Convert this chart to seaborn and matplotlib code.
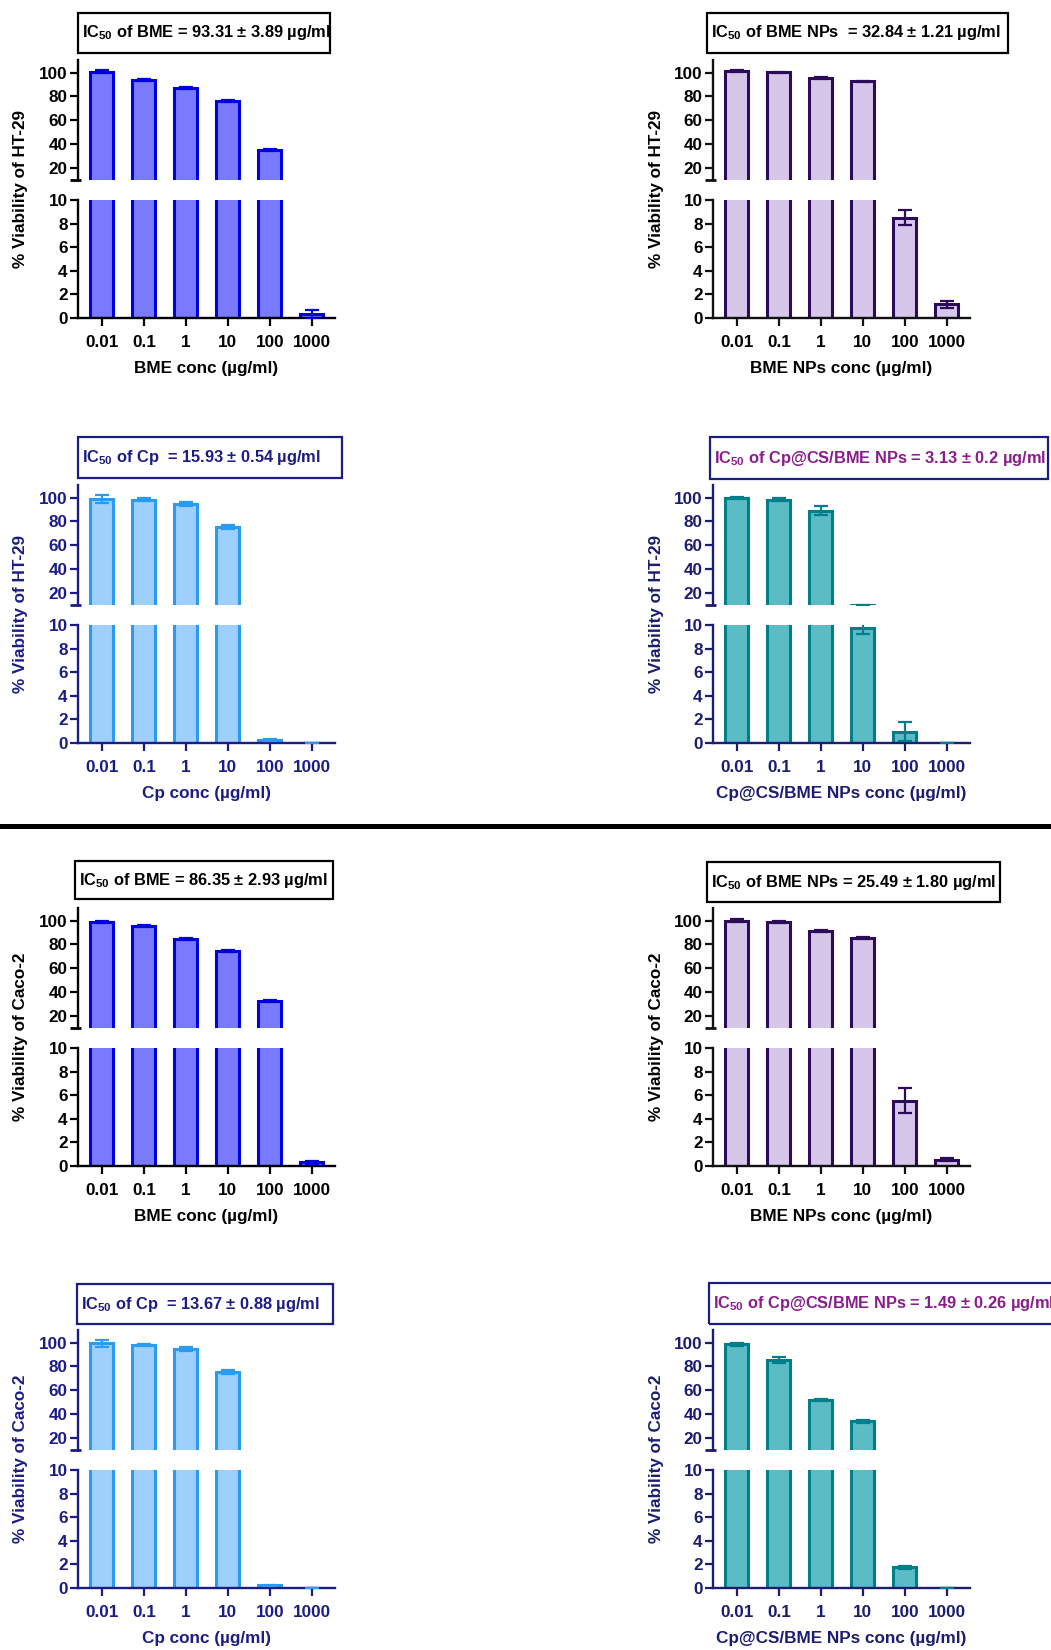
import numpy as np
import pandas as pd
import matplotlib
matplotlib.use("Agg")
import matplotlib.pyplot as plt
from matplotlib.lines import Line2D
from matplotlib.patches import Rectangle
import seaborn as sns

# ---------------------------------------------------------------- data
conc_labels = ["0.01", "0.1", "1", "10", "100", "1000"]

# HT-29 cell line (% viability, mean and SD)
ht29_bme = [100.8, 93.8, 87.4, 75.8, 35.0, 0.30]
ht29_bme_sd = [1.0, 1.0, 0.8, 0.8, 1.0, 0.35]
ht29_bme_nps = [101.2, 100.2, 95.5, 92.5, 8.5, 1.15]
ht29_bme_nps_sd = [1.0, 0.5, 0.5, 0.8, 0.65, 0.3]
ht29_cp = [99.0, 98.2, 94.8, 75.5, 0.25, 0.03]
ht29_cp_sd = [3.5, 1.0, 1.5, 1.5, 0.05, 0.0]
ht29_cpcs = [99.5, 98.2, 89.0, 9.75, 0.95, 0.02]
ht29_cpcs_sd = [1.0, 1.0, 3.5, 0.55, 0.8, 0.0]

# Caco-2 cell line
caco_bme = [99.0, 95.5, 84.5, 74.5, 32.5, 0.30]
caco_bme_sd = [0.8, 1.0, 0.8, 0.8, 0.8, 0.12]
caco_bme_nps = [100.0, 99.0, 91.0, 85.0, 5.55, 0.55]
caco_bme_nps_sd = [1.0, 0.8, 1.0, 0.8, 1.05, 0.15]
caco_cp = [99.3, 98.0, 94.5, 75.5, 0.22, 0.03]
caco_cp_sd = [3.0, 0.8, 1.5, 1.5, 0.05, 0.0]
caco_cpcs = [98.5, 85.0, 52.0, 34.0, 1.75, 0.02]
caco_cpcs_sd = [1.5, 2.5, 1.0, 1.5, 0.15, 0.0]

ic50_text = [
    r"IC$_{50}$ of BME = 93.31 ± 3.89 µg/ml",
    r"IC$_{50}$ of BME NPs  = 32.84 ± 1.21 µg/ml",
    r"IC$_{50}$ of Cp  = 15.93 ± 0.54 µg/ml",
    r"IC$_{50}$ of Cp@CS/BME NPs = 3.13 ± 0.2 µg/ml",
    r"IC$_{50}$ of BME = 86.35 ± 2.93 µg/ml",
    r"IC$_{50}$ of BME NPs = 25.49 ± 1.80 µg/ml",
    r"IC$_{50}$ of Cp  = 13.67 ± 0.88 µg/ml",
    r"IC$_{50}$ of Cp@CS/BME NPs = 1.49 ± 0.26 µg/ml",
]

# ---------------------------------------------------------------- style
sns.set_style("ticks")
plt.rcParams["font.family"] = ["Liberation Sans", "DejaVu Sans"]
plt.rcParams["font.weight"] = "bold"
plt.rcParams["mathtext.fontset"] = "custom"
plt.rcParams["mathtext.rm"] = "Liberation Sans:bold"
plt.rcParams["mathtext.it"] = "Liberation Sans:bold"
plt.rcParams["mathtext.bf"] = "Liberation Sans:bold"

NAVY = "#1c1c86"
PURPLE = "#8a1c8c"
styles = {
    "bme": dict(fill="#7a7aff", edge="#0000dc", axis="black", text="black", box="black", boxtext="black"),
    "nps": dict(fill="#d6c6ea", edge="#2c0c58", axis="#111111", text="black", box="black", boxtext="black"),
    "cp": dict(fill="#9ed0fb", edge="#2b9bf0", axis=NAVY, text=NAVY, box=NAVY, boxtext=NAVY),
    "cpcs": dict(fill="#5bbcc6", edge="#007f8a", axis="#1c1c70", text="#1c1c70", box=NAVY, boxtext=PURPLE),
}

W, H = 1051, 1650
fig = plt.figure(figsize=(W / 100, H / 100), dpi=100)


def fx(px):
    return px / W


def fy(py):
    return 1 - py / H


FS = 12.3
AX_W = 257
BREAK = 10


def panel(x0, top, vals, sds, style, xlabel, ylabel, box, label):
    st = styles[style]
    df = pd.DataFrame({"conc": conc_labels, "viability": vals})
    vals_a = np.asarray(vals, dtype=float)
    sds_a = np.asarray(sds, dtype=float)
    ax_up = fig.add_axes([fx(x0), fy(top + 120), AX_W / W, 120 / H])
    ax_lo = fig.add_axes([fx(x0), fy(top + 258), AX_W / W, 118 / H])
    for ax in (ax_up, ax_lo):
        sns.barplot(data=df, x="conc", y="viability", order=conc_labels,
                    color=st["fill"], edgecolor=st["edge"], linewidth=2.2,
                    width=0.55, saturation=1, errorbar=None, ax=ax)
        # error bars only where they reach into this segment of the axis
        if ax is ax_up:
            keep = vals_a + sds_a > BREAK
        else:
            keep = vals_a - sds_a < BREAK
        ax.errorbar(np.arange(len(vals))[keep], vals_a[keep], yerr=sds_a[keep],
                    fmt="none", ecolor=st["edge"], elinewidth=1.6, capsize=5,
                    capthick=1.6, zorder=4)
        ax.set_xlim(-0.57, 5.55)
        ax.set_xlabel("")
        ax.set_ylabel("")
        for s in ("top", "right"):
            ax.spines[s].set_visible(False)
        for s in ("left", "bottom"):
            ax.spines[s].set_color(st["axis"])
            ax.spines[s].set_linewidth(1.7)
        ax.tick_params(axis="both", colors=st["axis"], labelcolor=st["text"],
                       width=1.6, length=6, labelsize=FS)
        ax.tick_params(axis="y", pad=1.5)
        ax.tick_params(axis="x", pad=6.5)
    ax_up.set_ylim(BREAK, 110.5)
    ax_up.set_yticks([20, 40, 60, 80, 100])
    ax_up.set_yticklabels(["20", "40", "60", "80", "100"], fontweight="bold")
    ax_up.spines["bottom"].set_visible(False)
    ax_up.tick_params(axis="x", bottom=False, labelbottom=False)
    # break marker at the lower end of the upper axis
    ax_up.plot([-8 / AX_W, 3 / AX_W], [0, 0], transform=ax_up.transAxes,
               color=st["axis"], lw=2.0, clip_on=False, solid_capstyle="butt")
    ax_lo.set_ylim(0, BREAK)
    ax_lo.set_yticks([0, 2, 4, 6, 8, 10])
    ax_lo.set_yticklabels(["0", "2", "4", "6", "8", "10"], fontweight="bold")
    ax_lo.set_xticks(range(len(conc_labels)))
    ax_lo.set_xticklabels(conc_labels, fontweight="bold")

    fig.text(fx(x0 + AX_W / 2), fy(top + 313), xlabel, ha="center",
             va="baseline", fontsize=FS, fontweight="bold", color=st["text"])
    fig.text(fx(x0 - 57), fy(top + 129), ylabel, rotation=90, ha="center",
             va="center", fontsize=FS, fontweight="bold", color=st["text"])

    l, t, r, b = box
    fig.add_artist(Rectangle((fx(l), fy(b)), (r - l) / W, (b - t) / H,
                             transform=fig.transFigure, fill=False,
                             edgecolor=st["box"], linewidth=1.6))
    fig.text(fx(l + 4), fy((t + b) / 2), label, ha="left", va="center",
             fontsize=11.8, fontweight="bold", color=st["boxtext"])


LX, RX = 78, 713
rows = [60, 485, 908, 1330]

panel(LX, rows[0], ht29_bme, ht29_bme_sd, "bme", "BME conc (µg/ml)",
      "% Viability of HT-29", (78, 13, 330, 53), ic50_text[0])
panel(RX, rows[0], ht29_bme_nps, ht29_bme_nps_sd, "nps", "BME NPs conc (µg/ml)",
      "% Viability of HT-29", (707, 13, 1008, 53), ic50_text[1])
panel(LX, rows[1], ht29_cp, ht29_cp_sd, "cp", "Cp conc (µg/ml)",
      "% Viability of HT-29", (78, 437, 342, 478), ic50_text[2])
panel(RX, rows[1], ht29_cpcs, ht29_cpcs_sd, "cpcs", "Cp@CS/BME NPs conc (µg/ml)",
      "% Viability of HT-29", (710, 437, 1048, 479), ic50_text[3])
panel(LX, rows[2], caco_bme, caco_bme_sd, "bme", "BME conc (µg/ml)",
      "% Viability of Caco-2", (75, 861, 333, 899), ic50_text[4])
panel(RX, rows[2], caco_bme_nps, caco_bme_nps_sd, "nps", "BME NPs conc (µg/ml)",
      "% Viability of Caco-2", (707, 862, 1000, 902), ic50_text[5])
panel(LX, rows[3], caco_cp, caco_cp_sd, "cp", "Cp conc (µg/ml)",
      "% Viability of Caco-2", (77, 1284, 333, 1324), ic50_text[6])
panel(RX, rows[3], caco_cpcs, caco_cpcs_sd, "cpcs", "Cp@CS/BME NPs conc (µg/ml)",
      "% Viability of Caco-2", (709, 1283, 1062, 1324), ic50_text[7])

# divider between the two cell lines
fig.add_artist(Line2D([0, 1], [fy(826.5), fy(826.5)], transform=fig.transFigure,
                      color="black", linewidth=3.6))

fig.savefig("out.png", dpi=100)
